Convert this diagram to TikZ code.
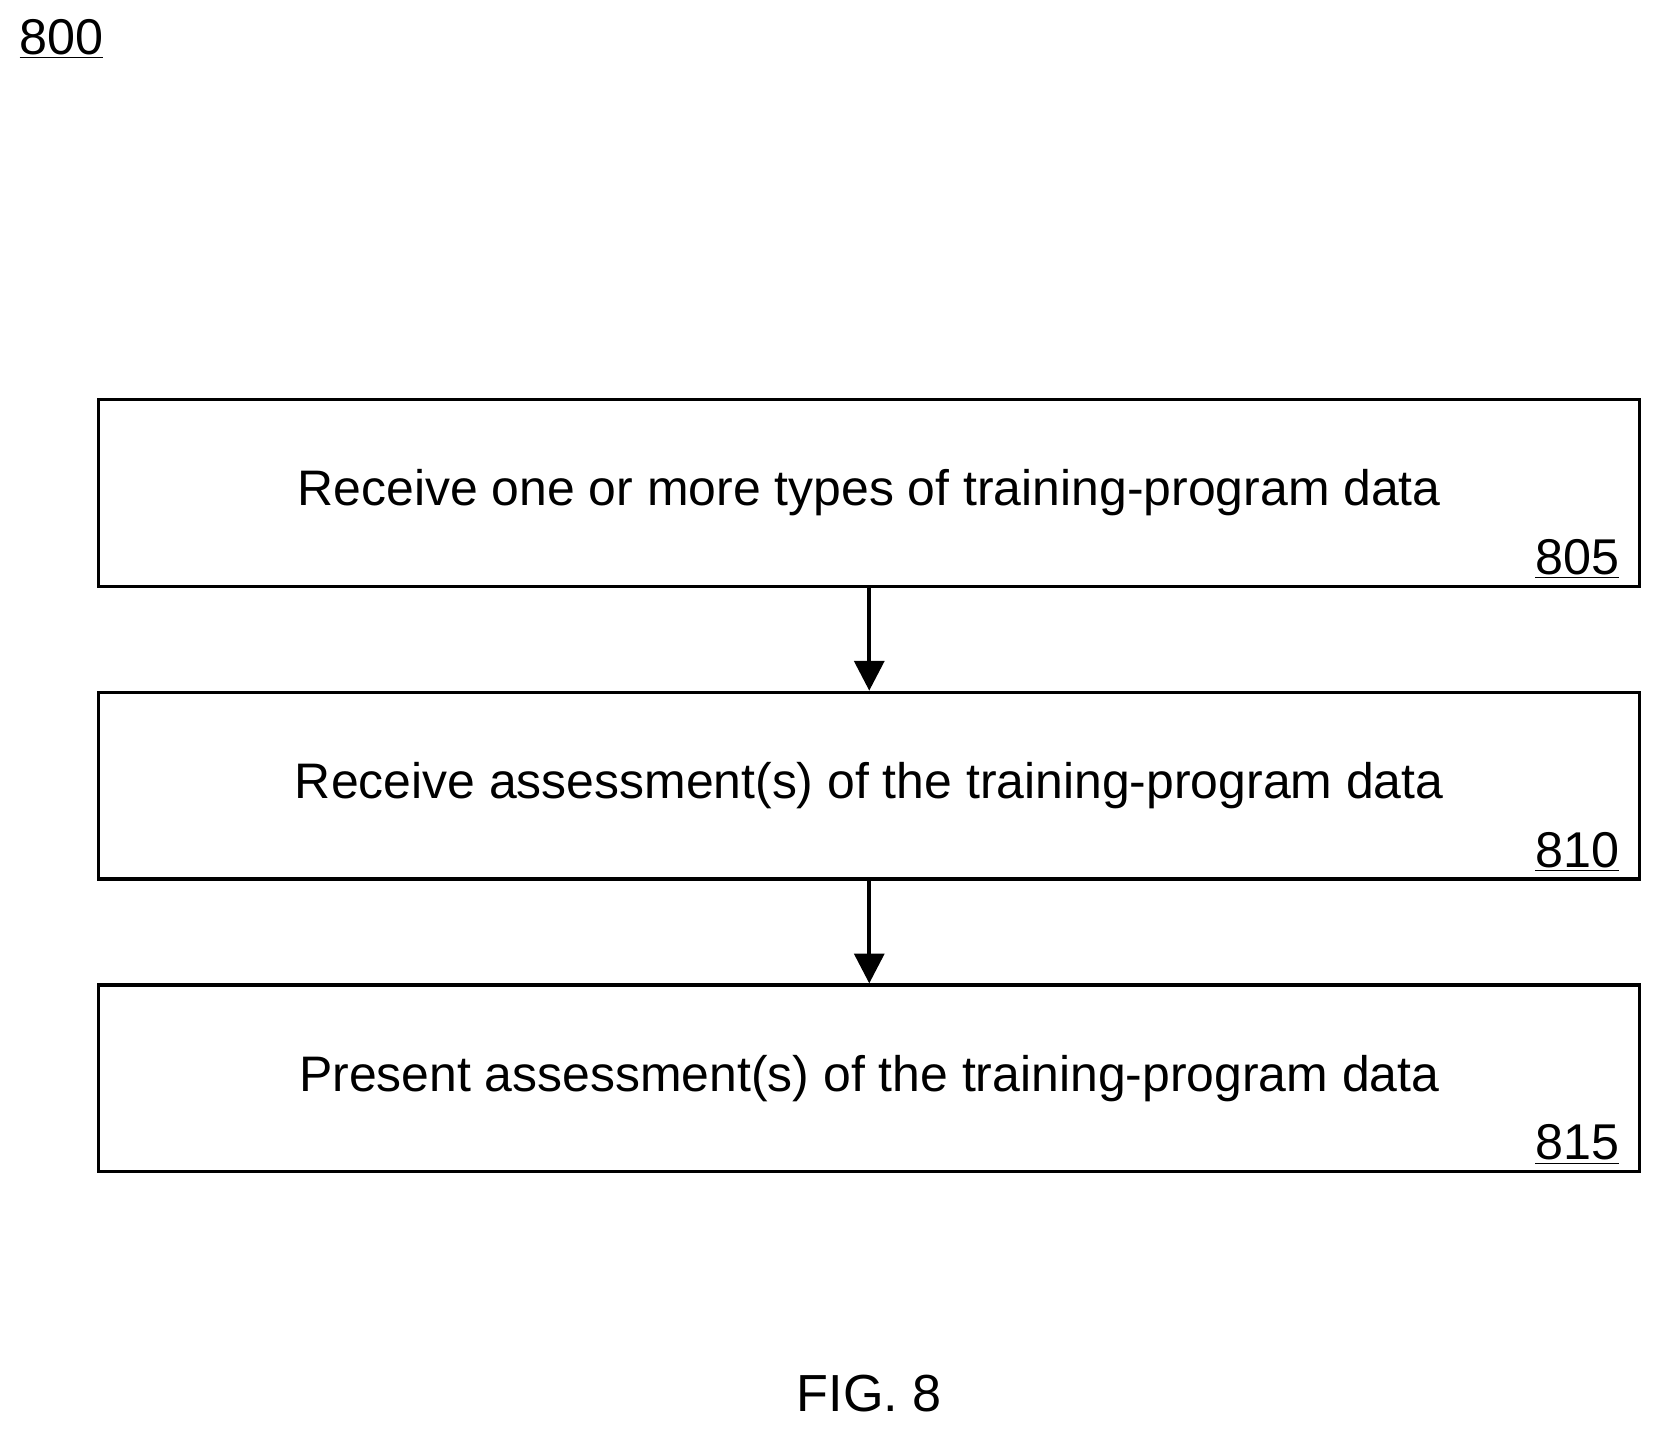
\documentclass[tikz,border=0pt]{standalone}
\usepackage{fontspec}
\setmainfont{Liberation Sans}
\usetikzlibrary{positioning,arrows.meta}
\tikzset{
  stepbox/.style={draw, line width=1.8pt, minimum width=29.08cm, minimum height=3.52cm, font=\fontsize{26.8}{32}\selectfont},
  reflabel/.style={font=\fontsize{27}{32}\selectfont, anchor=south east},
  flow/.style={-{Triangle[length=16pt,width=16pt]}, line width=2.2pt}
}
\begin{document}
\begin{tikzpicture}[x=0.02cm,y=-0.02cm]
    \useasboundingbox (0,0) rectangle (1565,1348);
    % Figure number
    \node[font=\fontsize{27}{32}\selectfont] (fignum) at (58,37) {\underline{800}};
    
    % Steps
    \node[stepbox] (s805) at (820,465) {Receive one or more types of training-program data};
    \node[stepbox, below=1.94cm of s805] (s810) {Receive assessment(s) of the training-program data};
    \node[stepbox, below=1.94cm of s810] (s815) {Present assessment(s) of the training-program data};
    \node[reflabel] at ([xshift=-0.3cm,yshift=0.05cm]s805.south east) {\underline{805}};
    \node[reflabel] at ([xshift=-0.3cm,yshift=0.05cm]s810.south east) {\underline{810}};
    \node[reflabel] at ([xshift=-0.3cm,yshift=0.05cm]s815.south east) {\underline{815}};
    
    % Arrows
    \draw[flow] (s805) -- (s810);
    \draw[flow] (s810) -- (s815);
    
    % Caption
    \node[font=\fontsize{28}{34}\selectfont] (cap) at (820,1315) {FIG. 8};
\end{tikzpicture}
\end{document}
